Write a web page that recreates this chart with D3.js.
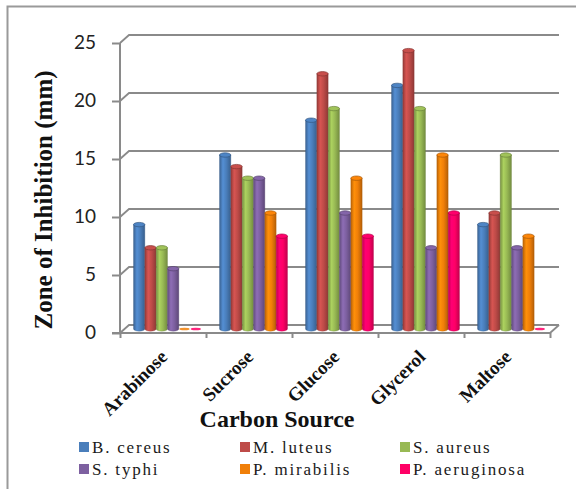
<!DOCTYPE html>
<html>
<head>
<meta charset="utf-8">
<script src="https://cdn.jsdelivr.net/npm/d3@7"></script>
<style>
  html, body { margin: 0; padding: 0; background: #fff; }
  svg { display: block; }
  .serif { font-family: "Liberation Serif", "Times New Roman", Times, serif; }
</style>
</head>
<body>
<svg id="chart" width="576" height="489"></svg>
<script>
// Zone of inhibition (mm) by carbon source for six test organisms
const categories = ["Arabinose", "Sucrose", "Glucose", "Glycerol", "Maltose"];
const seriesNames = ["B. cereus", "M. luteus", "S. aureus", "S. typhi", "P. mirabilis", "P. aeruginosa"];
const seriesColors = ["#4a7ebb", "#be4b48", "#98b954", "#7d60a0", "#f07f09", "#ff0066"];
const bCereus     = [9, 15, 18, 21, 9];
const mLuteus     = [7, 14, 22, 24, 10];
const sAureus     = [7, 13, 19, 19, 15];
const sTyphi      = [5.2, 13, 10, 7, 7];
const pMirabilis  = [0, 10, 13, 15, 8];
const pAeruginosa = [0, 8, 8, 10, 0];
const yTicks = [0, 5, 10, 15, 20, 25];

const seriesValues = [bCereus, mLuteus, sAureus, sTyphi, pMirabilis, pAeruginosa];

const svg = d3.select("#chart");

// outer frame
svg.append("rect")
  .attr("x", 7.5).attr("y", 6.5).attr("width", 700).attr("height", 700)
  .attr("fill", "none").attr("stroke", "#9a9a9a").attr("stroke-width", 2);

// 3D box geometry: front plane, back wall offset by (depthX, -depthY)
const left = 120, right = 550;
const depthX = 9, depthY = 8;
const yFront = d3.scaleLinear().domain([0, 25]).range([333, 43]);
const yBack  = d3.scaleLinear().domain([0, 25]).range([333 - depthY, 43 - depthY]);
const yMid   = d3.scaleLinear().domain([0, 25]).range([329, 39]);

const xCat = d3.scaleBand().domain(categories).range([left, right]).paddingInner(0).paddingOuter(0);
const xEdge = d3.scaleLinear().domain([0, categories.length]).range([left, right]);
const xSeries = d3.scaleBand().domain(seriesNames).range([13.5, 81.5]).padding(0);

const gridColor = "#8a8a8a";

// gridlines on back wall with side-wall diagonal
const grid = svg.append("g");
yTicks.forEach(v => {
  grid.append("path")
    .attr("d", `M${left},${yFront(v)} L${left + depthX},${yBack(v)} L${right + depthX},${yBack(v)}`)
    .attr("fill", "none").attr("stroke", gridColor).attr("stroke-width", 1.8);
});
// floor right edge
grid.append("path")
  .attr("d", `M${right},${yFront(0)} L${right + depthX},${yBack(0)}`)
  .attr("fill", "none").attr("stroke", gridColor).attr("stroke-width", 1.8);

// gradients for cylindrical bars
const defs = svg.append("defs");
seriesColors.forEach((c, i) => {
  const base = d3.color(c);
  const g = defs.append("linearGradient").attr("id", "grad" + i)
    .attr("x1", "0%").attr("x2", "100%").attr("y1", "0%").attr("y2", "0%");
  g.append("stop").attr("offset", "0%").attr("stop-color", base.darker(0.7));
  g.append("stop").attr("offset", "30%").attr("stop-color", base.brighter(0.35));
  g.append("stop").attr("offset", "60%").attr("stop-color", base);
  g.append("stop").attr("offset", "100%").attr("stop-color", base.darker(0.8));
});

// bars
const bars = svg.append("g");
const bw = xSeries.bandwidth();
const capRy = 2.2;
categories.forEach((cat, ci) => {
  seriesValues.forEach((vals, si) => {
    const v = vals[ci];
    const x = xCat(cat) + xSeries(seriesNames[si]);
    const yTop = yMid(v), yBase = yMid(0);
    const c = d3.color(seriesColors[si]);
    if (v > 0) {
      bars.append("path")
        .attr("d", `M${x},${yTop} L${x},${yBase} A${bw / 2},${capRy} 0 0 0 ${x + bw},${yBase} L${x + bw},${yTop} Z`)
        .attr("fill", `url(#grad${si})`)
        .attr("stroke", c.darker(1)).attr("stroke-opacity", 0.5).attr("stroke-width", 0.6);
      bars.append("ellipse")
        .attr("cx", x + bw / 2).attr("cy", yTop).attr("rx", bw / 2).attr("ry", capRy)
        .attr("fill", c.brighter(0.15)).attr("stroke", c.darker(1)).attr("stroke-width", 0.7);
    } else {
      bars.append("ellipse")
        .attr("cx", x + bw / 2).attr("cy", yBase).attr("rx", bw / 2 - 0.5).attr("ry", 1.3)
        .attr("fill", c).attr("opacity", 0.85);
    }
  });
});

// y axis
const yAxis = d3.axisLeft(yFront).tickValues(yTicks).tickSize(8).tickFormat("");
const yg = svg.append("g").attr("transform", `translate(${left},0)`).call(yAxis);
yg.select(".domain").attr("stroke", gridColor).attr("stroke-width", 2).attr("d", `M0,${yFront(25)}V${yFront(0)}`);
yg.selectAll(".tick line").attr("stroke", gridColor).attr("stroke-width", 2);

svg.append("g").selectAll("text").data(yTicks).join("text")
  .attr("x", 96).attr("y", d => yFront(d) + 1)
  .attr("text-anchor", "end").attr("dominant-baseline", "middle")
  .attr("font-family", "Lato, 'Open Sans', sans-serif").attr("font-size", 19)
  .attr("fill", "#222")
  .text(d => d);

// x axis with ticks at category boundaries
const xAxis = d3.axisBottom(xEdge).tickValues(d3.range(categories.length + 1)).tickSize(5).tickFormat("");
const xg = svg.append("g").attr("transform", `translate(0,${yFront(0)})`).call(xAxis);
xg.select(".domain").attr("stroke", gridColor).attr("stroke-width", 2).attr("d", `M${left - 8},0H${right}`);
xg.selectAll(".tick line").attr("stroke", gridColor).attr("stroke-width", 2);

// category labels
svg.append("g").selectAll("text").data(categories).join("text")
  .attr("class", "serif")
  .attr("transform", d => `translate(${xCat(d) + xCat.bandwidth() / 2 + 5.5},358) rotate(-45)`)
  .attr("text-anchor", "end")
  .attr("font-weight", "bold").attr("font-size", 19).attr("fill", "#111")
  .text(d => d);

// axis titles
svg.append("text")
  .attr("class", "serif")
  .attr("transform", "translate(52,200) rotate(-90)")
  .attr("text-anchor", "middle")
  .attr("font-weight", "bold").attr("font-size", 25).attr("fill", "#111")
  .text("Zone of Inhibition (mm)");

svg.append("text")
  .attr("class", "serif")
  .attr("x", 277).attr("y", 427)
  .attr("text-anchor", "middle")
  .attr("font-weight", "bold").attr("font-size", 24).attr("fill", "#111")
  .text("Carbon Source");

// legend
const legendCols = [79, 240, 400];
const legendRows = [442, 464];
const legend = svg.append("g");
seriesNames.forEach((name, i) => {
  const cx = legendCols[i % 3], cy = legendRows[Math.floor(i / 3)];
  legend.append("rect").attr("x", cx).attr("y", cy).attr("width", 10).attr("height", 10)
    .attr("fill", seriesColors[i]);
  legend.append("text").attr("class", "serif").attr("x", cx + 13).attr("y", cy + 10.5)
    .attr("font-size", 17).attr("letter-spacing", 1.8).attr("fill", "#1a1a1a")
    .text(name);
});
</script>
</body>
</html>
